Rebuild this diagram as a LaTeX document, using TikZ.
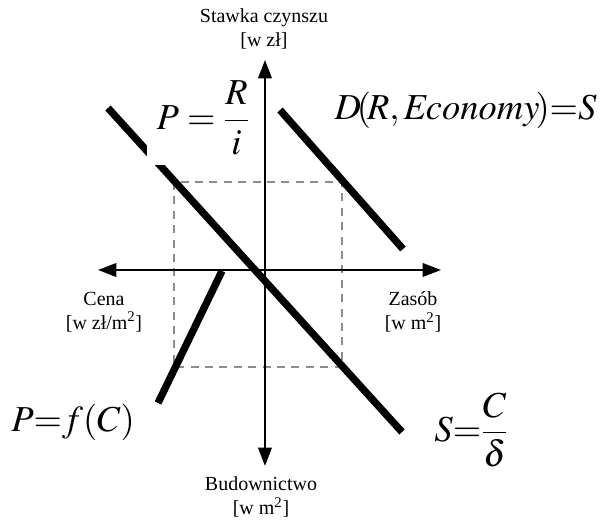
\documentclass[tikz,border=0pt]{standalone}
\usepackage{amsmath}
\usepackage{mathptmx}
\usepackage{fontspec}
\setmainfont{Liberation Serif}
\usetikzlibrary{arrows.meta}
\definecolor{guideGray}{HTML}{8C8C8C}

\begin{document}
\begin{tikzpicture}[
    x=0.025cm, y=-0.025cm,
    axis/.style={line width=1.4pt, -{Triangle[length=4.6mm, width=3.4mm]}},
    curve/.style={line width=5.2pt},
    guide/.style={guideGray, line width=1.3pt, dash pattern=on 2mm off 1.6mm},
    lbl/.style={font=\fontsize{14.2}{17}\selectfont, align=center, inner sep=0pt},
    eq/.style={font=\fontsize{26}{30}\selectfont, inner sep=0pt},
]
    \useasboundingbox (0,0) rectangle (600,523);
    % axes end points
    \coordinate (o) at (265,270);
    \coordinate (ytop) at (265,60);
    \coordinate (ybot) at (265,466);
    \coordinate (xleft) at (98,270);
    \coordinate (xright) at (441,270);
    % dashed box corners
    \coordinate (g1) at (174,182);
    \coordinate (g2) at (342,367);
    % curve end points
    \coordinate (pr1) at (108,108);
    \coordinate (pr2) at (402,432);
    \coordinate (dr1) at (280,110);
    \coordinate (dr2) at (403,249);
    \coordinate (fc1) at (222,271);
    \coordinate (fc2) at (158,403);

    \draw[guide] (g1) rectangle (g2);
    \draw[curve] (pr1) -- (pr2);
    \draw[curve] (dr1) -- (dr2);
    \draw[curve] (fc1) -- (fc2);

    \node[eq, fill=white, inner xsep=7pt, inner ysep=7pt] (pri)
         at (203,118) {$P = \displaystyle\frac{R}{i}$};

    \draw[axis] (o) -- (ytop);
    \draw[axis] (o) -- (ybot);
    \draw[axis] (o) -- (xleft);
    \draw[axis] (o) -- (xright);

    \node[lbl] (rent) at (264,29) {Stawka czynszu\\{[w zł]}};
    \node[lbl] (price) at (104,312) {Cena\\{[w zł/m\textsuperscript{2}]}};
    \node[lbl] (stock) at (413,312) {Zasób\\{[w m\textsuperscript{2}]}};
    \node[lbl] (build) at (261,497) {Budownictwo\\{[w m\textsuperscript{2}]}};

    \node[eq, anchor=base east] (dem) at (597,120)
         {$D\!(\!R,\mathit{Economy}\!){=}S$};
    \node[eq, anchor=base west] (pfc) at (11,432) {$P{=}f(C)$};
    \node[eq, anchor=west] (scd) at (434,430) {$S{=}\displaystyle\frac{C}{\delta}$};
\end{tikzpicture}
\end{document}
